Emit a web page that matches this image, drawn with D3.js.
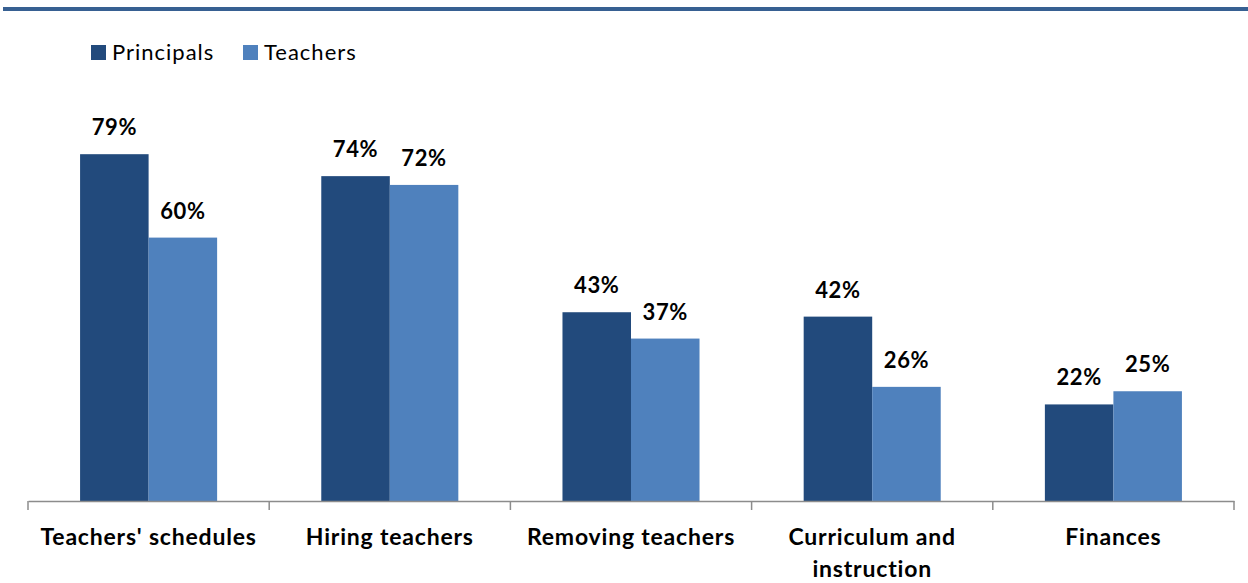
<!DOCTYPE html>
<html>
<head>
<meta charset="utf-8">
<script src="https://cdn.jsdelivr.net/npm/d3@7"></script>
<style>
  body { margin: 0; background: #fff; }
  svg { display: block; font-family: Lato, "Open Sans", sans-serif; }
</style>
</head>
<body>
<svg id="chart" width="1248" height="583"></svg>
<script>
var categories = [
  ["Teachers' schedules"],
  ["Hiring teachers"],
  ["Removing teachers"],
  ["Curriculum and", "instruction"],
  ["Finances"]
];
var seriesNames = ['Principals', 'Teachers'];
var principals = [79, 74, 43, 42, 22];
var teachers = [60, 72, 37, 26, 25];
var colors = ['#224a7c', '#4f81bd'];

var svg = d3.select('#chart');

var x0 = d3.scaleBand()
  .domain(d3.range(categories.length))
  .range([28, 1234])
  .paddingInner(0)
  .paddingOuter(0);

var x1 = d3.scaleBand()
  .domain(seriesNames)
  .range([0, x0.bandwidth()])
  .paddingOuter(0.76)
  .paddingInner(0);

var y = d3.scaleLinear().domain([0, 100]).range([501, 62]);

// top rule
svg.append('rect')
  .attr('x', 3).attr('y', 7).attr('width', 1245).attr('height', 4)
  .attr('fill', '#376092');

var rows = categories.map(function(c, i) {
  return { i: i, values: [principals[i], teachers[i]] };
});

var groups = svg.selectAll('g.group')
  .data(rows)
  .enter().append('g')
  .attr('class', 'group')
  .attr('transform', function(d) { return 'translate(' + x0(d.i) + ',0)'; });

groups.selectAll('rect')
  .data(function(d) {
    return d.values.map(function(v, k) { return { key: seriesNames[k], k: k, v: v }; });
  })
  .enter().append('rect')
  .attr('x', function(d) { return x1(d.key); })
  .attr('width', x1.bandwidth())
  .attr('y', function(d) { return y(d.v); })
  .attr('height', function(d) { return y(0) - y(d.v); })
  .attr('fill', function(d) { return colors[d.k]; });

groups.selectAll('text.val')
  .data(function(d) {
    return d.values.map(function(v, k) { return { key: seriesNames[k], v: v }; });
  })
  .enter().append('text')
  .attr('class', 'val')
  .attr('x', function(d) { return x1(d.key) + x1.bandwidth() / 2; })
  .attr('y', function(d) { return y(d.v) - 19; })
  .attr('text-anchor', 'middle')
  .attr('font-size', 22)
  .attr('font-weight', 'bold')
  .attr('letter-spacing', 0.6)
  .attr('fill', '#000')
  .text(function(d) { return d.v + '%'; });

// x axis
var axis = d3.axisBottom(x0)
  .tickValues([])
  .tickSizeOuter(0);
var ax = svg.append('g').attr('transform', 'translate(0,' + y(0) + ')').call(axis);
ax.select('.domain').attr('stroke', '#8c8c8c').attr('stroke-width', 1.5);

var boundaries = d3.range(categories.length + 1).map(function(i) {
  return i < categories.length ? x0(i) : x0(i - 1) + x0.bandwidth();
});
ax.selectAll('line.tick')
  .data(boundaries)
  .enter().append('line')
  .attr('class', 'tick')
  .attr('x1', function(d) { return d; })
  .attr('x2', function(d) { return d; })
  .attr('y1', 0).attr('y2', 9)
  .attr('stroke', '#8c8c8c').attr('stroke-width', 1.5);

var labels = svg.selectAll('text.cat')
  .data(rows)
  .enter().append('text')
  .attr('class', 'cat')
  .attr('text-anchor', 'middle')
  .attr('font-size', 23)
  .attr('font-weight', 'bold')
  .attr('letter-spacing', 0.8)
  .attr('fill', '#000');

labels.selectAll('tspan')
  .data(function(d) {
    return categories[d.i].map(function(line) { return { i: d.i, line: line }; });
  })
  .enter().append('tspan')
  .attr('x', function(d) { return x0(d.i) + x0.bandwidth() / 2; })
  .attr('y', function(d, j) { return 545 + j * 32; })
  .text(function(d) { return d.line; });

// legend
var legend = svg.selectAll('g.legend')
  .data(seriesNames)
  .enter().append('g')
  .attr('class', 'legend')
  .attr('transform', function(d, k) { return 'translate(' + (91 + k * 152) + ',45)'; });

legend.append('rect')
  .attr('width', 15).attr('height', 15)
  .attr('fill', function(d, k) { return colors[k]; });

legend.append('text')
  .attr('x', 21).attr('y', 15)
  .attr('font-size', 22)
  .attr('letter-spacing', 1)
  .attr('fill', '#000')
  .text(function(d) { return d; });
</script>
</body>
</html>
